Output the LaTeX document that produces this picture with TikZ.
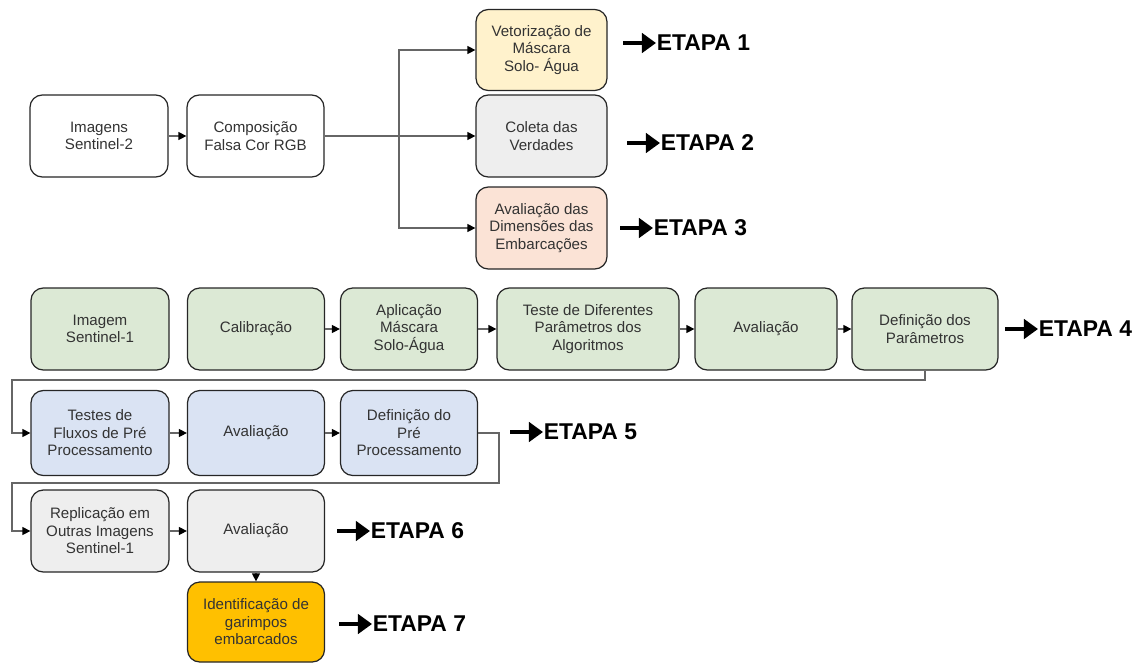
\documentclass[tikz,border=0pt]{standalone}
\usepackage{fontspec}
\setmainfont{Liberation Sans}
\usetikzlibrary{arrows.meta, positioning}
\definecolor{textDark}{HTML}{333333}
\definecolor{boxYellow}{HTML}{FFF2CC}
\definecolor{boxGray}{HTML}{EEEEEE}
\definecolor{boxPeach}{HTML}{FBE3D6}
\definecolor{boxGreen}{HTML}{DCE9D5}
\definecolor{boxBlue}{HTML}{DAE3F3}
\definecolor{boxGold}{HTML}{FFC000}

\begin{document}
\begin{tikzpicture}[
    box/.style={rectangle, rounded corners=7pt, draw=black!85, fill=#1,
                line width=0.7pt, minimum width=2.74cm, minimum height=1.64cm,
                font=\fontsize{8.6}{10}\selectfont\color{textDark}, align=center,
                inner sep=1pt},
    link/.style={draw=black!60, line width=0.6pt,
                 -{Triangle[length=4.5pt, width=4.5pt, color=black]}},
    bigarrow/.style={line width=2.6pt, -{Triangle[length=8pt, width=11pt]}},
    etapa/.style={font=\fontsize{13}{15}\selectfont\bfseries, inner sep=0.3pt,
                  anchor=west},
  ]
    \useasboundingbox (0,0) rectangle (22.72,-13.24);

    % sentinel-2
    \node[box=white, minimum width=2.76cm] (s2) at (1.98,-2.72) {Imagens\\Sentinel-2};
    \node[box=white] (comp) at (5.11,-2.72) {Composição\\Falsa Cor RGB};
    \node[box=boxYellow, minimum width=2.62cm, minimum height=1.62cm] (vet) at (10.83,-1.0)
      {Vetorização de\\Máscara\\Solo- Água};
    \node[box=boxGray, minimum width=2.62cm] (coleta) at (10.83,-2.72) {Coleta das\\Verdades};
    \node[box=boxPeach, minimum width=2.62cm] (dims) at (10.83,-4.56)
      {Avaliação das\\Dimensões das\\Embarcações};
    \coordinate (br) at (7.98,-2.72);

    \draw[link] (s2) -- (comp);
    \draw[link] (comp) -- (coleta);
    \draw[link] (br) |- (vet);
    \draw[link] (br) |- (dims);

    % sentinel-1
    \node[box=boxGreen, minimum width=2.76cm] (s1) at (2.0,-6.58) {Imagem\\Sentinel-1};
    \node[box=boxGreen] (calib) at (5.12,-6.58) {Calibração};
    \node[box=boxGreen] (aplic) at (8.18,-6.58) {Aplicação\\Máscara\\Solo-Água};
    \node[box=boxGreen, minimum width=3.64cm] (teste) at (11.76,-6.58)
      {Teste de Diferentes\\Parâmetros dos\\Algoritmos};
    \node[box=boxGreen, minimum width=2.84cm] (aval4) at (15.32,-6.58) {Avaliação};
    \node[box=boxGreen, minimum width=2.92cm] (def4) at (18.5,-6.58) {Definição dos\\Parâmetros};

    \draw[link] (calib) -- (aplic);
    \draw[link] (aplic) -- (teste);
    \draw[link] (teste) -- (aval4);
    \draw[link] (aval4) -- (def4);

    \node[box=boxBlue, minimum width=2.76cm, minimum height=1.7cm] (fluxos) at (2.0,-8.66)
      {Testes de\\Fluxos de Pré\\Processamento};
    \node[box=boxBlue, minimum height=1.7cm] (aval5) at (5.12,-8.66) {Avaliação};
    \node[box=boxBlue, minimum height=1.7cm] (defpre) at (8.18,-8.66)
      {Definição do\\Pré\\Processamento};
    \coordinate (turn4) at (0.24,-7.6);

    \draw[link] (def4.south) |- (turn4) |- (fluxos.west);
    \draw[link] (fluxos) -- (aval5);
    \draw[link] (aval5) -- (defpre);

    \node[box=boxGray, minimum width=2.76cm] (repl) at (2.0,-10.62)
      {Replicação em\\Outras Imagens\\Sentinel-1};
    \node[box=boxGray] (aval6) at (5.12,-10.62) {Avaliação};
    \node[box=boxGold, minimum height=1.6cm] (ident) at (5.12,-12.44)
      {Identificação de\\garimpos\\embarcados};
    \coordinate (turn5a) at (9.98,-9.66);
    \coordinate (turn5b) at (0.24,-9.66);

    \draw[link] (defpre.east) -| (turn5a) -- (turn5b) |- (repl.west);
    \draw[link] (repl) -- (aval6);
    \draw[link] (aval6) -- (ident);

    % etapas
    \coordinate (a1) at (12.46,-0.86);
    \coordinate (a2) at (12.54,-2.86);
    \coordinate (a3) at (12.40,-4.56);
    \coordinate (a4) at (20.10,-6.58);
    \coordinate (a5) at (10.20,-8.64);
    \coordinate (a6) at (6.74,-10.62);
    \coordinate (a7) at (6.78,-12.48);
    \node[etapa, right=0.66cm of a1] (e1) {ETAPA 1};
    \node[etapa, right=0.66cm of a2] (e2) {ETAPA 2};
    \node[etapa, right=0.66cm of a3] (e3) {ETAPA 3};
    \node[etapa, right=0.66cm of a4] (e4) {ETAPA 4};
    \node[etapa, right=0.66cm of a5] (e5) {ETAPA 5};
    \node[etapa, right=0.66cm of a6] (e6) {ETAPA 6};
    \node[etapa, right=0.66cm of a7] (e7) {ETAPA 7};
    \foreach \i in {1,...,7}
      \draw[bigarrow] (a\i) -- (e\i.west);
  \end{tikzpicture}
\end{document}
